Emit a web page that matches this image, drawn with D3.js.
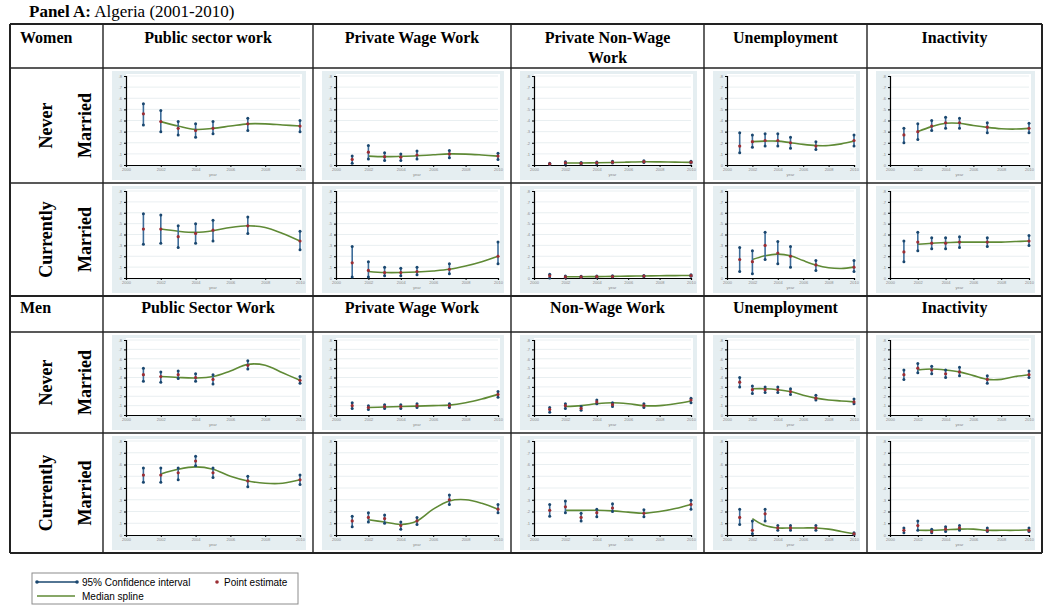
<!DOCTYPE html>
<html><head><meta charset="utf-8">
<script src="https://cdn.jsdelivr.net/npm/d3@7"></script>
<style>body{margin:0;background:#fff}svg{display:block}</style>
</head><body>
<svg id="c" width="1050" height="612"></svg>
<script>
// ---------- data ----------
const years = [2001,2002,2003,2004,2005,2007,2010];
const splineYears = [2002,2003,2004,2005,2006,2007,2008,2009,2010];
const xTickValues = [2000,2002,2004,2006,2008,2010];
const yTickValues = [0,.1,.2,.3,.4,.5,.6,.7,.8];
const yTickLabels = ["0",".1",".2",".3",".4",".5",".6",".7",".8"];
const womenColumns = ["Public sector work","Private Wage Work","Private Non-Wage\nWork","Unemployment","Inactivity"];
const menColumns = ["Public Sector Work","Private Wage Work","Non-Wage Work","Unemployment","Inactivity"];
const rowLabels = [["Never","Married"],["Currently","Married"]];

// Women, never married
const wnPubEst = [.46,.39,.33,.31,.33,.37,.35];
const wnPubLo  = [.36,.30,.27,.25,.28,.31,.30];
const wnPubHi  = [.55,.49,.39,.37,.39,.42,.40];
const wnPubSpl = [.39,.35,.32,.33,.35,.37,.37,.36,.35];
const wnPwEst = [.05,.115,.075,.07,.09,.10,.08];
const wnPwLo  = [.015,.055,.04,.04,.055,.065,.05];
const wnPwHi  = [.08,.175,.11,.10,.125,.13,.105];
const wnPwSpl = [.08,.075,.078,.083,.092,.10,.098,.09,.08];
const wnNwEst = [.01,.02,.015,.02,.025,.03,.025];
const wnNwLo  = [.005,.01,.008,.012,.017,.022,.017];
const wnNwHi  = [.015,.03,.022,.028,.033,.038,.033];
const wnNwSpl = [.018,.018,.02,.022,.026,.029,.028,.026,.024];
const wnUnEst = [.17,.21,.22,.22,.20,.17,.22];
const wnUnLo  = [.11,.16,.17,.17,.15,.14,.17];
const wnUnHi  = [.29,.27,.28,.28,.25,.21,.27];
const wnUnSpl = [.21,.215,.215,.20,.185,.175,.175,.19,.215];
const wnInEst = [.27,.30,.35,.38,.38,.34,.33];
const wnInLo  = [.20,.23,.31,.33,.33,.29,.29];
const wnInHi  = [.33,.37,.40,.43,.42,.38,.375];
const wnInSpl = [.30,.345,.375,.375,.355,.338,.326,.323,.329];

// Women, currently married
const wcPubEst = [.45,.45,.38,.41,.44,.48,.34];
const wcPubLo  = [.31,.32,.28,.32,.34,.41,.26];
const wcPubHi  = [.59,.58,.48,.50,.53,.56,.43];
const wcPubSpl = [.45,.43,.42,.435,.465,.48,.465,.41,.34];
const wcPwEst = [.14,.07,.05,.05,.06,.08,.20];
const wcPwLo  = [.01,.01,.02,.02,.03,.04,.13];
const wcPwHi  = [.29,.15,.10,.09,.10,.13,.33];
const wcPwSpl = [.06,.05,.05,.055,.065,.08,.11,.15,.20];
const wcNwEst = [.02,.01,.01,.012,.014,.018,.022];
const wcNwLo  = [.0,.005,.005,.007,.009,.012,.015];
const wcNwHi  = [.035,.018,.016,.018,.02,.024,.03];
const wcNwSpl = [.012,.012,.013,.015,.017,.019,.021,.022,.023];
const wcUnEst = [.17,.15,.30,.23,.20,.12,.10];
const wcUnLo  = [.06,.04,.17,.13,.10,.07,.06];
const wcUnHi  = [.28,.25,.42,.335,.29,.16,.16];
const wcUnSpl = [.17,.205,.22,.205,.16,.12,.095,.088,.10];
const wcInEst = [.24,.33,.32,.32,.33,.33,.34];
const wcInLo  = [.15,.25,.27,.27,.28,.29,.30];
const wcInHi  = [.34,.42,.37,.37,.38,.37,.39];
const wcInSpl = [.31,.32,.325,.33,.33,.33,.33,.335,.34];

// Men, never married
const mnPubEst = [.43,.41,.43,.40,.38,.53,.37];
const mnPubLo  = [.36,.35,.39,.36,.33,.49,.34];
const mnPubHi  = [.50,.46,.47,.44,.43,.58,.41];
const mnPubSpl = [.41,.40,.395,.41,.47,.54,.53,.45,.37];
const mnPwEst = [.10,.08,.09,.09,.10,.10,.22];
const mnPwLo  = [.07,.06,.07,.07,.08,.08,.19];
const mnPwHi  = [.13,.10,.11,.11,.12,.12,.25];
const mnPwSpl = [.08,.085,.09,.095,.10,.105,.13,.17,.22];
const mnNwEst = [.06,.10,.07,.14,.11,.10,.16];
const mnNwLo  = [.03,.07,.05,.12,.09,.08,.13];
const mnNwHi  = [.08,.12,.09,.16,.13,.12,.18];
const mnNwSpl = [.09,.10,.12,.13,.12,.10,.10,.12,.15];
const mnUnEst = [.35,.27,.27,.27,.25,.18,.14];
const mnUnLo  = [.30,.23,.24,.24,.22,.16,.12];
const mnUnHi  = [.40,.31,.30,.30,.28,.21,.17];
const mnUnSpl = [.28,.28,.27,.25,.21,.18,.16,.15,.14];
const mnInEst = [.43,.50,.48,.44,.46,.38,.43];
const mnInLo  = [.38,.45,.44,.40,.42,.34,.40];
const mnInHi  = [.48,.55,.52,.48,.51,.42,.47];
const mnInSpl = [.48,.49,.48,.46,.42,.38,.38,.41,.43];

// Men, currently married
const mcPubEst = [.51,.51,.53,.63,.53,.46,.47];
const mcPubLo  = [.45,.45,.47,.59,.49,.41,.43];
const mcPubHi  = [.57,.57,.57,.67,.57,.50,.51];
const mcPubSpl = [.52,.56,.58,.56,.50,.46,.44,.44,.47];
const mcPwEst = [.12,.15,.14,.08,.12,.30,.22];
const mcPwLo  = [.07,.11,.10,.05,.09,.26,.19];
const mcPwHi  = [.16,.19,.17,.11,.15,.34,.26];
const mcPwSpl = [.13,.11,.09,.12,.22,.29,.30,.27,.22];
const mcNwEst = [.21,.24,.15,.19,.23,.185,.26];
const mcNwLo  = [.16,.19,.12,.155,.20,.155,.22];
const mcNwHi  = [.26,.29,.185,.22,.265,.215,.295];
const mcNwSpl = [.21,.21,.21,.205,.195,.185,.20,.225,.26];
const mcUnEst = [.15,.04,.18,.06,.06,.06,.01];
const mcUnLo  = [.09,.01,.12,.04,.04,.04,.005];
const mcUnHi  = [.22,.12,.22,.08,.08,.08,.02];
const mcUnSpl = [.14,.08,.06,.06,.06,.06,.05,.03,.01];
const mcInEst = [.04,.08,.03,.05,.06,.04,.04];
const mcInLo  = [.02,.04,.02,.03,.04,.03,.03];
const mcInHi  = [.06,.12,.05,.07,.08,.06,.06];
const mcInSpl = [.04,.04,.045,.05,.05,.04,.04,.04,.045];

const panelRows = [
  [[wnPubEst,wnPubLo,wnPubHi,wnPubSpl],[wnPwEst,wnPwLo,wnPwHi,wnPwSpl],[wnNwEst,wnNwLo,wnNwHi,wnNwSpl],[wnUnEst,wnUnLo,wnUnHi,wnUnSpl],[wnInEst,wnInLo,wnInHi,wnInSpl]],
  [[wcPubEst,wcPubLo,wcPubHi,wcPubSpl],[wcPwEst,wcPwLo,wcPwHi,wcPwSpl],[wcNwEst,wcNwLo,wcNwHi,wcNwSpl],[wcUnEst,wcUnLo,wcUnHi,wcUnSpl],[wcInEst,wcInLo,wcInHi,wcInSpl]],
  [[mnPubEst,mnPubLo,mnPubHi,mnPubSpl],[mnPwEst,mnPwLo,mnPwHi,mnPwSpl],[mnNwEst,mnNwLo,mnNwHi,mnNwSpl],[mnUnEst,mnUnLo,mnUnHi,mnUnSpl],[mnInEst,mnInLo,mnInHi,mnInSpl]],
  [[mcPubEst,mcPubLo,mcPubHi,mcPubSpl],[mcPwEst,mcPwLo,mcPwHi,mcPwSpl],[mcNwEst,mcNwLo,mcNwHi,mcNwSpl],[mcUnEst,mcUnLo,mcUnHi,mcUnSpl],[mcInEst,mcInLo,mcInHi,mcInSpl]]
];

// ---------- layout ----------
const svg = d3.select("#c");
const serif = "'Liberation Serif','Times New Roman',serif";
const sans = "'Liberation Sans',Arial,sans-serif";
const colX = [10,103,313,511,704,867,1042];
const tableTop = 24, hdrW = 68;
const rowY = [[68,183],[183,296],[332,433],[433,553]];
const hdrM = [296,332];
const navy = "#1a476f", ciLine = "#3d6c99", red = "#9b2d33", green = "#5f8a35";

// title
const t = svg.append("text").attr("x",29).attr("y",17).attr("font-family",serif).attr("font-size",17).attr("fill","#000");
t.append("tspan").attr("font-weight","bold").text("Panel A:");
t.append("tspan").text(" Algeria (2001-2010)");

// headers
function header(y0,y1,first,cols){
  svg.append("text").attr("x",20).attr("y",y0+19).attr("font-family",serif).attr("font-weight","bold").attr("font-size",16).text(first);
  cols.forEach((c,i)=>{
    const cx=(colX[i+1]+colX[i+2])/2;
    c.split("\n").forEach((ln,j)=>{
      svg.append("text").attr("x",cx).attr("y",y0+19+j*20).attr("text-anchor","middle")
        .attr("font-family",serif).attr("font-weight","bold").attr("font-size",16).text(ln);
    });
  });
}
header(tableTop,hdrW,"Women",womenColumns);
header(hdrM[0]-2,hdrM[1],"Men",menColumns);

// row labels
rowY.forEach((r,ri)=>{
  const lab = rowLabels[ri%2];
  const cy=(r[0]+r[1])/2;
  [[46,lab[0]],[85,lab[1]]].forEach(([x,s])=>{
    svg.append("text").attr("transform",`translate(${x+6},${cy}) rotate(-90)`).attr("text-anchor","middle")
      .attr("font-family",serif).attr("font-weight","bold").attr("font-size",18).text(s);
  });
});

// panels
const xScaleProto = d3.scaleLinear().domain([2000,2010]);
const yScaleProto = d3.scaleLinear().domain([0,.8]);
rowY.forEach((r,ri)=>{
  for(let ci=0;ci<5;ci++){
    const [est,lo,hi,spl]=panelRows[ri][ci];
    const bx=colX[ci+1]+9, bw=colX[ci+2]-colX[ci+1]-16, by=r[0]+3, bh=r[1]-r[0]-6;
    const g=svg.append("g");
    g.append("rect").attr("x",bx).attr("y",by).attr("width",bw).attr("height",bh).attr("fill","#e5eef1");
    const L=bx+14, R=bx+bw-6, T=by+5, B=by+bh-15;
    g.append("rect").attr("x",L).attr("y",T-2).attr("width",R-L+2).attr("height",B-T+2).attr("fill","#fff");
    const x=xScaleProto.copy().range([L,R]);
    const y=yScaleProto.copy().range([B,T]);
    // grid
    g.selectAll(".gl").data(yTickValues.slice(1)).join("line")
      .attr("x1",L).attr("x2",R).attr("y1",d=>y(d)).attr("y2",d=>y(d)).attr("stroke","#e3ebee").attr("stroke-width",0.8);
    // axes
    const ya=d3.axisLeft(y).tickValues(yTickValues).tickFormat((d,i)=>yTickLabels[i]).tickSize(2).tickPadding(2);
    const xa=d3.axisBottom(x).tickValues(xTickValues).tickFormat(d3.format("d")).tickSize(2).tickPadding(1.5);
    const yg=g.append("g").attr("transform",`translate(${L},0)`).call(ya);
    const xg=g.append("g").attr("transform",`translate(0,${B})`).call(xa);
    [yg,xg].forEach(a=>{
      a.select(".domain").attr("stroke","#000").attr("stroke-width",1.2);
      a.selectAll(".tick line").attr("stroke","#000").attr("stroke-width",1);
      a.selectAll(".tick text").attr("font-size",4).attr("fill","#8a8a8a").attr("font-family",sans);
    });
    g.append("text").attr("x",(L+R)/2).attr("y",B+11).attr("text-anchor","middle").attr("font-size",4)
      .attr("fill","#8a8a8a").attr("font-family",sans).text("year");
    // spline
    const line=d3.line().x((d,i)=>x(splineYears[i])).y(d=>y(d)).curve(d3.curveCatmullRom.alpha(0.5));
    g.append("path").attr("d",line(spl)).attr("fill","none").attr("stroke",green).attr("stroke-width",1.6);
    // CIs
    years.forEach((yr,i)=>{
      g.append("line").attr("x1",x(yr)).attr("x2",x(yr)).attr("y1",y(lo[i])).attr("y2",y(hi[i]))
        .attr("stroke",ciLine).attr("stroke-width",1.6);
      [lo[i],hi[i]].forEach(v=>g.append("circle").attr("cx",x(yr)).attr("cy",y(v)).attr("r",1.5).attr("fill",navy));
      g.append("circle").attr("cx",x(yr)).attr("cy",y(est[i])).attr("r",1.6).attr("fill",red);
    });
  }
});

// table lines
const lc="#222";
const hLines=[tableTop,hdrW,183,296,332,433,553];
hLines.forEach((yy,i)=>{
  svg.append("line").attr("x1",colX[0]).attr("x2",colX[6]).attr("y1",yy).attr("y2",yy)
    .attr("stroke",lc).attr("stroke-width",(i===0||i===hLines.length-1||yy===296)?2.2:1.4);
});
colX.forEach((xx,i)=>{
  svg.append("line").attr("x1",xx).attr("x2",xx).attr("y1",tableTop).attr("y2",553)
    .attr("stroke",lc).attr("stroke-width",(i===0||i===6)?2:1.4);
});

// legend
const lg=svg.append("g");
lg.append("rect").attr("x",32).attr("y",573).attr("width",266).attr("height",31).attr("fill","#fff").attr("stroke","#8c8c8c").attr("stroke-width",1);
lg.append("line").attr("x1",37).attr("x2",77).attr("y1",582).attr("y2",582).attr("stroke",navy).attr("stroke-width",1.3);
[37,77].forEach(xx=>lg.append("circle").attr("cx",xx).attr("cy",582).attr("r",1.8).attr("fill",navy));
lg.append("text").attr("x",82).attr("y",585.5).attr("font-family",sans).attr("font-size",10).text("95% Confidence interval");
lg.append("circle").attr("cx",217).attr("cy",582).attr("r",1.8).attr("fill",red);
lg.append("text").attr("x",224).attr("y",585.5).attr("font-family",sans).attr("font-size",10).text("Point estimate");
lg.append("line").attr("x1",37).attr("x2",75).attr("y1",596).attr("y2",596).attr("stroke",green).attr("stroke-width",1.3);
lg.append("text").attr("x",82).attr("y",599.5).attr("font-family",sans).attr("font-size",10).text("Median spline");
</script>
</body></html>
